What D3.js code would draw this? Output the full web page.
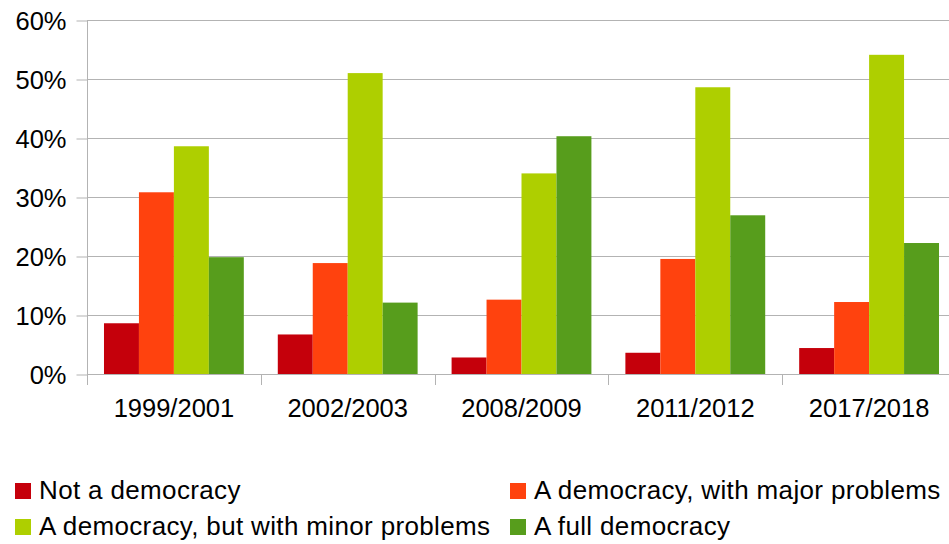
<!DOCTYPE html>
<html>
<head>
<meta charset="utf-8">
<script src="https://cdn.jsdelivr.net/npm/d3@7"></script>
<style>
  body { margin: 0; background: #fff; }
  text { font-family: "Liberation Sans", Arial, sans-serif; fill: #000; }
</style>
</head>
<body>
<svg width="949" height="544"></svg>
<script>
// chart data
var periods = ["1999/2001", "2002/2003", "2008/2009", "2011/2012", "2017/2018"];
var seriesNames = ["Not a democracy", "A democracy, with major problems",
                   "A democracy, but with minor problems", "A full democracy"];
var notDemocracy   = [8.6, 6.7, 2.8, 3.6, 4.4];
var majorProblems  = [30.8, 18.8, 12.6, 19.5, 12.2];
var minorProblems  = [38.6, 51.0, 34.0, 48.6, 54.1];
var fullDemocracy  = [19.8, 12.1, 40.3, 26.9, 22.2];
var yTicks = [0, 10, 20, 30, 40, 50, 60];

var colors = ["#c5000b", "#ff420e", "#aecf00", "#579d1c"];
var allSeries = [notDemocracy, majorProblems, minorProblems, fullDemocracy];

var svg = d3.select("svg");

var x = d3.scaleBand()
    .domain(periods)
    .range([87, 956]);

// bars inside each period: 4 bars with ~half a bar of space either side
var xInner = d3.scaleBand()
    .domain(d3.range(seriesNames.length))
    .range([0, x.bandwidth()])
    .paddingInner(0)
    .paddingOuter(0.486);

var y = d3.scaleLinear()
    .domain([0, 60])
    .range([374, 20]);

// gridlines
svg.append("g")
  .selectAll("line")
  .data(yTicks)
  .enter().append("line")
    .attr("x1", 87)
    .attr("x2", 949)
    .attr("y1", d => y(d) + 0.5)
    .attr("y2", d => y(d) + 0.5)
    .attr("stroke", "#b3b3b3")
    .attr("stroke-width", 1);

// y axis
var yAxis = svg.append("g")
    .attr("transform", "translate(87.5,0.5)")
    .call(d3.axisLeft(y).tickValues(yTicks).tickSize(11).tickPadding(10)
      .tickFormat(d => d + "%"));
yAxis.selectAll("line, path").attr("stroke", "#b3b3b3");
yAxis.select(".domain").attr("d", "M0," + y(60) + "V" + y(0));
yAxis.selectAll("text")
    .style("font-size", "25.5px")
    .style("font-family", "Liberation Sans, Arial, sans-serif")
    .attr("dy", "0.36em")
    .attr("fill", "#000");

// bars
var groups = svg.append("g")
  .selectAll("g")
  .data(periods)
  .enter().append("g")
    .attr("transform", d => "translate(" + x(d) + ",0)");

groups.selectAll("rect")
  .data((d, i) => allSeries.map((s, k) => ({ k: k, v: s[i] })))
  .enter().append("rect")
    .attr("x", d => xInner(d.k))
    .attr("width", xInner.bandwidth())
    .attr("y", d => y(d.v))
    .attr("height", d => y(0) - y(d.v))
    .attr("fill", d => colors[d.k]);

// x axis
var xAxis = svg.append("g")
    .attr("transform", "translate(0," + (y(0) + 0.5) + ")")
    .call(d3.axisBottom(x).tickSize(0).tickPadding(0));
xAxis.select(".domain").attr("stroke", "#b3b3b3").attr("d", "M87,0H949");
xAxis.selectAll("text")
    .style("font-size", "25.5px")
    .style("font-family", "Liberation Sans, Arial, sans-serif")
    .attr("fill", "#000")
    .attr("y", 42.5)
    .attr("dy", 0);

// category separators below the axis
svg.append("g")
  .selectAll("line")
  .data(periods)
  .enter().append("line")
    .attr("x1", d => Math.round(x(d)) + 0.5)
    .attr("x2", d => Math.round(x(d)) + 0.5)
    .attr("y1", y(0))
    .attr("y2", y(0) + 11)
    .attr("stroke", "#b3b3b3");

// legend
var legendPos = [[15, 499], [510, 499], [15, 535], [510, 535]];
var legend = svg.append("g")
  .selectAll("g")
  .data(seriesNames)
  .enter().append("g")
    .attr("transform", (d, i) => "translate(" + legendPos[i][0] + "," + legendPos[i][1] + ")");

legend.append("rect")
    .attr("x", 0)
    .attr("y", -16)
    .attr("width", 16)
    .attr("height", 16)
    .attr("fill", (d, i) => colors[i]);

legend.append("text")
    .attr("x", 24)
    .attr("y", 0)
    .style("font-size", "26px")
    .style("letter-spacing", "0.35px")
    .text(d => d);
</script>
</body>
</html>
